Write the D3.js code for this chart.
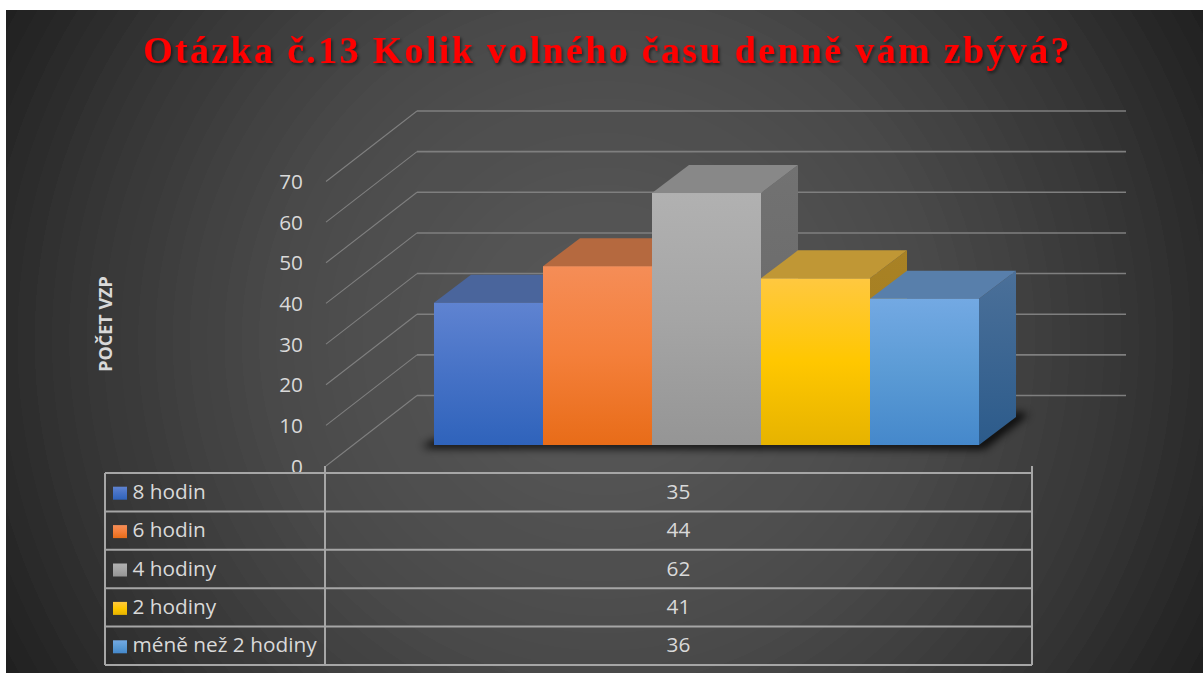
<!DOCTYPE html>
<html><head><meta charset="utf-8">
<script src="https://cdn.jsdelivr.net/npm/d3@7"></script>
<style>html,body{margin:0;padding:0;background:#fff}svg{display:block}</style>
</head><body><svg id="c" width="1203" height="673"></svg>
<script>
const titleText = "Otázka č.13 Kolik volného času denně vám zbývá?";
const axisTitle = "POČET VZP";
const categories = ["8 hodin","6 hodin","4 hodiny","2 hodiny","méně než 2 hodiny"];
const values = [35,44,62,41,36];
const yTicks = [0,10,20,30,40,50,60,70];
const frontTop = ["#5f83d1","#f58d57","#b1b1b1","#ffc840","#73a9e3"];
const frontMid = ["#4672c6","#f47f3a","#a5a5a5","#ffc700","#5b9bd5"];
const frontBottom = ["#2f63bb","#e86c18","#959595","#e6b300","#4588cb"];
const topFace = ["#4a659c","#b5693f","#888888","#c09735","#587fab"];
const sideTop = ["#3f5f98","#a85c30","#727272","#a98225","#4b7099"];
const sideBottom = ["#254a88","#9c4f1c","#666666","#a07a1c","#2c5b8b"];

const svg = d3.select("#c");
const defs = svg.append("defs");

const bgCol = d3.scaleLinear().domain([0,.47,.79,1]).range(["#5a5a5a","#4a4a4a","#333333","#1f1f1f"]);
const bg = defs.append("radialGradient").attr("id","bg").attr("gradientUnits","userSpaceOnUse")
  .attr("cx",604).attr("cy",340).attr("r",690);
const nb = 40;
d3.range(nb).forEach(i=>{
  bg.append("stop").attr("offset",i/nb).attr("stop-color",bgCol((i+.5)/nb));
  bg.append("stop").attr("offset",(i+1)/nb).attr("stop-color",bgCol((i+.5)/nb));
});
svg.append("rect").attr("x",6).attr("y",10).attr("width",1197).attr("height",663).attr("fill","url(#bg)");

const blur = defs.append("filter").attr("id","blur").attr("x","-10%").attr("y","-50%").attr("width","120%").attr("height","200%");
blur.append("feGaussianBlur").attr("stdDeviation",4);
const ts = defs.append("filter").attr("id","ts").attr("x","-5%").attr("y","-20%").attr("width","110%").attr("height","150%");
ts.append("feDropShadow").attr("dx",1.5).attr("dy",2).attr("stdDeviation",1.5).attr("flood-color","#000").attr("flood-opacity",.55);

const y = d3.scaleLinear().domain([0,70]).range([466,181.5]);
const h = v => y(0)-y(v);
const wallDx = 91, wallDy = -70.5, wallRight = 1126;
const x = d3.scaleBand().domain(categories).range([434,979]);
const baseY = 445, depthX = 37, depthY = -28;
const rows = d3.scaleBand().domain(categories).range([473,665]);

const grid = svg.append("g").attr("fill","none");
yTicks.forEach(t=>{
  grid.append("line").attr("stroke","#7f7f7f").attr("stroke-width",1.1)
    .attr("x1",326).attr("y1",y(t)).attr("x2",326+wallDx).attr("y2",y(t)+wallDy);
  grid.append("line").attr("stroke","#7f7f7f").attr("stroke-width",1.6)
    .attr("x1",326+wallDx).attr("y1",y(t)+wallDy).attr("x2",wallRight).attr("y2",y(t)+wallDy);
});

const axis = svg.append("g").attr("transform","translate(303,0.5)")
  .call(d3.axisLeft(y).tickValues(yTicks).tickSize(0).tickPadding(0));
axis.select(".domain").remove();
axis.selectAll("text").attr("font-family","'Open Sans'").attr("font-size",20.8).attr("fill","#d9d9d9");

svg.append("text").attr("transform","translate(112,324) rotate(-90)").attr("text-anchor","middle")
  .attr("font-family","'Open Sans'").attr("font-weight",700).attr("font-size",18).attr("fill","#d9d9d9").text(axisTitle);

svg.append("path").attr("fill","#000").attr("opacity",.9).attr("filter","url(#blur)")
  .attr("d",d3.line()([[422,446],[x.range()[0],440],[x.range()[1],440],[x.range()[1]+depthX,412],[x.range()[1]+depthX+13,414],[x.range()[1]+5,449],[428,448]]));

const lin = (id,stops)=>{const g=defs.append("linearGradient").attr("id",id).attr("x1",0).attr("y1",0).attr("x2",0).attr("y2",1);
  stops.forEach((c,i)=>g.append("stop").attr("offset",i/(stops.length-1)).attr("stop-color",c));};
categories.forEach((c,i)=>{
  lin("f"+i,[frontTop[i],frontMid[i],frontBottom[i]]);
  lin("s"+i,[sideTop[i],sideBottom[i]]);
  const x0=x(c), x1=x0+x.bandwidth(), t=baseY-h(values[i]);
  const g=svg.append("g");
  g.append("path").attr("fill",`url(#s${i})`)
    .attr("d",d3.line()([[x1,t],[x1+depthX,t+depthY],[x1+depthX,baseY+depthY],[x1,baseY]])+"Z");
  g.append("path").attr("fill",topFace[i])
    .attr("d",d3.line()([[x0,t],[x0+depthX,t+depthY],[x1+depthX,t+depthY],[x1,t]])+"Z");
  g.append("rect").attr("x",x0).attr("y",t).attr("width",x.bandwidth()).attr("height",h(values[i])).attr("fill",`url(#f${i})`);
});

const tbl = svg.append("g").attr("stroke","#a6a6a6").attr("stroke-width",2).attr("fill","none");
const edges = categories.map(c=>rows(c)).concat([rows.range()[1]]);
edges.forEach(e=>tbl.append("line").attr("x1",105).attr("x2",1032).attr("y1",e).attr("y2",e));
tbl.append("line").attr("x1",105).attr("x2",105).attr("y1",rows.range()[0]).attr("y2",rows.range()[1]);
[325,1032].forEach(vx=>tbl.append("line").attr("x1",vx).attr("x2",vx).attr("y1",y(0)).attr("y2",rows.range()[1]));

categories.forEach((c,i)=>{
  const cy=rows(c)+rows.bandwidth()/2;
  svg.append("rect").attr("x",113).attr("y",cy-5.5).attr("width",14).attr("height",13).attr("fill",`url(#f${i})`);
  svg.append("text").attr("x",132.5).attr("y",cy+6.5).attr("font-family","'Open Sans'").attr("font-size",20.8).attr("fill","#d9d9d9").text(c);
  svg.append("text").attr("x",678.5).attr("y",cy+6.5).attr("text-anchor","middle").attr("font-family","'Open Sans'").attr("font-size",20.8).attr("fill","#d9d9d9").text(values[i]);
});

svg.append("text").attr("x",607.5).attr("y",63).attr("text-anchor","middle")
  .attr("font-family","'Liberation Serif'").attr("font-weight",700).attr("font-size",38).attr("letter-spacing",2.33)
  .attr("fill","#ff0000").attr("filter","url(#ts)").text(titleText);
</script></body></html>
